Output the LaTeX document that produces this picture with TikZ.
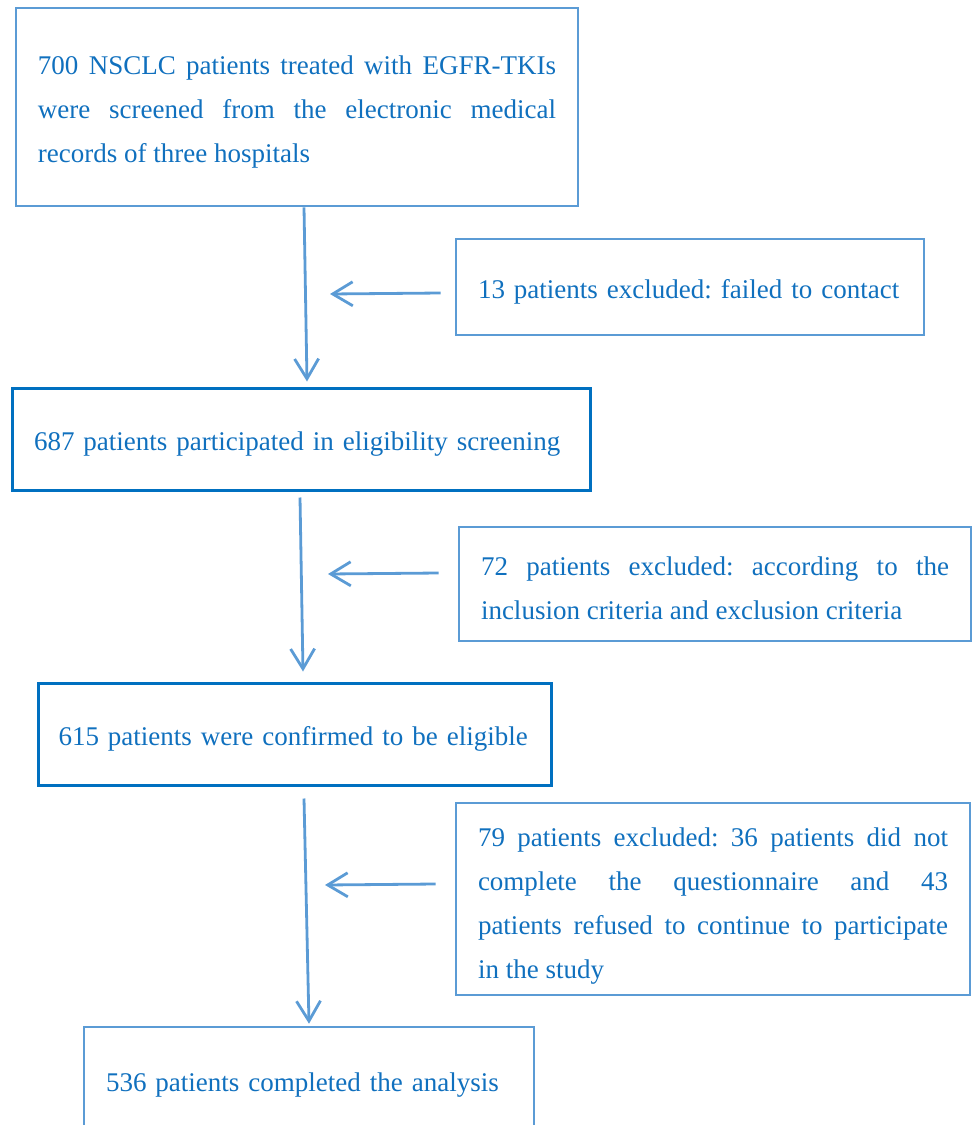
\documentclass[tikz,border=0pt]{standalone}
\usepackage{fontspec}
\setmainfont{Liberation Serif}
\usetikzlibrary{arrows.meta}
\usetikzlibrary{calc}

\definecolor{lightblue}{RGB}{91,155,213}
\definecolor{darkblue}{RGB}{0,112,192}
\definecolor{textblue}{RGB}{16,112,190}
\frenchspacing
\hyphenpenalty=10000
\exhyphenpenalty=10000

\begin{document}
\begin{tikzpicture}[x=0.5pt, y=-0.5pt,
	every node/.style={font=\fontsize{13.5}{22}\selectfont, text=textblue},
	lightbox/.style={draw=lightblue, line width=1.3pt, rectangle, inner xsep=11pt, inner ysep=0pt, align=justify,
		execute at begin node=\rule{0pt}{14pt}},
	darkbox/.style={draw=darkblue, line width=1.5pt, rectangle, inner xsep=11pt, inner ysep=0pt, align=left,
		execute at begin node=\rule{0pt}{14pt}},
	flowarrow/.style={draw=lightblue, line width=1.4pt, -{Straight Barb[length=10pt, width=12pt, line width=1.4pt]}}]
	\useasboundingbox (0,0) rectangle (972,1125);

	% Main boxes
	\node[lightbox, text width=259pt, minimum height=99pt] (screened) at (297,107)
		{700 NSCLC patients treated with EGFR-TKIs were screened from the electronic medical records of three hospitals};
	\node[darkbox, text width=267pt, minimum height=51pt] (participated) at (301,439)
		{687 patients participated in eligibility screening};
	\node[darkbox, text width=236pt, inner xsep=10.25pt, minimum height=51pt] (eligible) at (294.5,734)
		{615 patients were confirmed to be eligible};
	\node[lightbox, align=left, text width=203pt, minimum height=53pt] (completed) at (309,1080)
		{536 patients completed the analysis};

	% Exclusion boxes
	\node[lightbox, align=left, text width=212pt, minimum height=48pt] (excluded1) at (690,287)
		{13 patients excluded: failed to contact};
	\node[lightbox, text width=234pt, minimum height=57pt] (excluded2) at (715,584)
		{72 patients excluded: according to the inclusion criteria and exclusion criteria};
	\node[lightbox, text width=235pt, minimum height=96pt, execute at begin node=\rule{0pt}{16pt}] (excluded3) at (713,899)
		{79 patients excluded: 36 patients did not\linebreak complete the questionnaire and 43\linebreak patients refused to continue to participate\linebreak in the study};

	% Vertical arrows
	\draw[flowarrow] ([xshift=3.5pt]screened.south) -- ([xshift=3pt, yshift=2.5pt]participated.north);
	\draw[flowarrow] ([xshift=-0.5pt, yshift=-3pt]participated.south) -- ([xshift=4.25pt, yshift=5pt]eligible.north);
	\draw[flowarrow] ([xshift=4.75pt, yshift=-6pt]eligible.south) -- ([yshift=1pt]completed.north);

	% Side arrows (exclusions)
	\coordinate (mid1) at (330,294);
	\coordinate (mid2) at (328,574);
	\coordinate (mid3) at (325,885);
	\draw[flowarrow] ([xshift=-7pt, yshift=-3pt]excluded1.west) -- (mid1);
	\draw[flowarrow] ([xshift=-9.5pt, yshift=5.5pt]excluded2.west) -- (mid2);
	\draw[flowarrow] ([xshift=-9.5pt, yshift=7.5pt]excluded3.west) -- (mid3);
\end{tikzpicture}
\end{document}
